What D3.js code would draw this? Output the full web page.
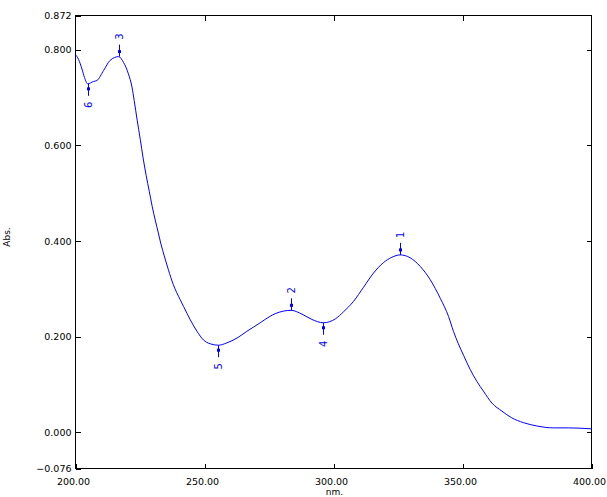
<!DOCTYPE html>
<html>
<head>
<meta charset="utf-8">
<script src="https://cdn.jsdelivr.net/npm/d3@7"></script>
<style>
  body { margin: 0; background: #fff; }
  svg { display: block; }
  .tick text { font-family: "DejaVu Sans", sans-serif; font-size: 9.5px; fill: #000; }
</style>
</head>
<body>
<svg id="chart" width="607" height="497"></svg>
<script>
// spectrum
const wavelength = [200, 201.2, 202.5, 203.5, 204.7, 207.0, 208.3, 210.9, 213.4, 216.7, 218.6, 220.5,
  221.9, 222.75, 223.9, 225.1, 226.2, 227.4, 228.6, 229.7, 230.9, 232.1, 233.2, 234.4, 236.0, 237.9,
  240.6, 241.9, 244.5, 247.1, 249.6, 252.2, 255.4, 258.7, 262.6, 266.4, 271.6, 273.5, 277.4, 283.6,
  287.8, 291.6, 296.1, 300.7, 303.9, 307.8, 311.6, 315.5, 319.4, 322.6, 325.9, 329.7, 333.6, 337.5,
  341.4, 344.6, 346.5, 348.4, 350.4, 353.0, 355.6, 358.1, 361.4, 365.3, 369.1, 373.6, 378.8, 385.3,
  391.1, 400];
const absorbance = [0.790, 0.780, 0.760, 0.742, 0.729, 0.734, 0.736, 0.757, 0.778, 0.786, 0.774, 0.750,
  0.722, 0.694, 0.653, 0.613, 0.574, 0.537, 0.504, 0.473, 0.444, 0.417, 0.392, 0.369, 0.340, 0.309,
  0.277, 0.263, 0.235, 0.211, 0.193, 0.185, 0.182, 0.187, 0.197, 0.211, 0.229, 0.236, 0.248, 0.255,
  0.247, 0.236, 0.229, 0.237, 0.252, 0.274, 0.303, 0.333, 0.355, 0.366, 0.371, 0.365, 0.347, 0.319,
  0.280, 0.242, 0.211, 0.185, 0.161, 0.131, 0.106, 0.086, 0.061, 0.044, 0.030, 0.020, 0.013, 0.009,
  0.009, 0.007];

// peak / valley picks
const peakLabels = ["1", "2", "3", "4", "5", "6"];
const peakNm = [325.9, 283.6, 216.7, 296.1, 255.4, 204.7];
const peakAbs = [0.371, 0.255, 0.786, 0.229, 0.182, 0.729];
const peakIsMax = [true, true, true, false, false, false];

const xTicks = [200, 250, 300, 350, 400];
const yTicks = [-0.076, 0, 0.2, 0.4, 0.6, 0.8, 0.872];

const plotLeft = 75.5, plotRight = 591.5, plotTop = 15.5, plotBottom = 468.5;
const svg = d3.select("#chart");

let x = d3.scaleLinear().domain([200, 400]).range([plotLeft, plotRight]);
let y = d3.scaleLinear().domain([-0.076, 0.872]).range([plotBottom, plotTop]);

// axes, ticks pointing inside
let yAxis = d3.axisLeft(y).tickValues(yTicks).tickFormat(d3.format(".3f"))
  .tickSizeInner(-5).tickSizeOuter(0).tickPadding(4);
svg.append("g").attr("transform", `translate(${plotLeft},0)`).call(yAxis)
  .call((g) => g.select(".domain").remove());

svg.append("g").attr("transform", `translate(${plotRight},0)`)
  .call(d3.axisRight(y).tickValues([0, 0.2, 0.4, 0.6, 0.8]).tickSizeInner(-5).tickSizeOuter(0).tickFormat(""))
  .call((g) => g.select(".domain").remove());

let xAxis = d3.axisBottom(x).tickValues(xTicks).tickFormat(d3.format(".2f"))
  .tickSizeInner(-5).tickSizeOuter(0).tickPadding(10);
svg.append("g").attr("transform", `translate(0,${plotBottom})`).call(xAxis)
  .call((g) => g.select(".domain").remove())
  .call((g) => g.selectAll("text").attr("x", -2.5));

svg.append("g").attr("transform", `translate(0,${plotTop})`)
  .call(d3.axisTop(x).tickValues([250, 300, 350]).tickSizeInner(-5).tickSizeOuter(0).tickFormat(""))
  .call((g) => g.select(".domain").remove());

svg.selectAll(".tick line").attr("stroke", "#000").attr("shape-rendering", "crispEdges");

svg.append("rect")
  .attr("x", plotLeft).attr("y", plotTop)
  .attr("width", plotRight - plotLeft).attr("height", plotBottom - plotTop)
  .attr("fill", "none").attr("stroke", "#000").attr("shape-rendering", "crispEdges");

// axis titles
svg.append("text")
  .attr("x", (plotLeft + plotRight) / 2 + 1).attr("y", 495)
  .attr("text-anchor", "middle")
  .style("font-family", "DejaVu Sans, sans-serif").style("font-size", "9px")
  .text("nm.");

svg.append("text")
  .attr("transform", "translate(10,237) rotate(-90)")
  .attr("text-anchor", "middle")
  .style("font-family", "DejaVu Sans, sans-serif").style("font-size", "9px")
  .text("Abs.");

// spectrum
let line = d3.line()
  .x((d, i) => x(wavelength[i]))
  .y((d) => y(d))
  .curve(d3.curveMonotoneX);

svg.append("path")
  .datum(absorbance)
  .attr("d", line)
  .attr("fill", "none")
  .attr("stroke", "#0000ff")
  .attr("stroke-width", 1);

// peak markers
let picks = svg.append("g").selectAll("g")
  .data(peakLabels)
  .enter()
  .append("g")
  .attr("transform", (d, i) => `translate(${Math.round(x(peakNm[i])) + 0.5},${y(peakAbs[i])})`);

picks.append("line")
  .attr("x1", 0).attr("x2", 0)
  .attr("y1", 0)
  .attr("y2", (d, i) => (peakIsMax[i] ? -12 : 12))
  .attr("stroke", "#0000ff");

picks.append("rect")
  .attr("x", -1.5).attr("width", 3).attr("height", 3)
  .attr("y", (d, i) => (peakIsMax[i] ? -6.5 : 3.5))
  .attr("fill", "#0000ff");

picks.append("text")
  .attr("transform", (d, i) => `translate(0,${peakIsMax[i] ? -20 : 21}) rotate(-90)`)
  .attr("text-anchor", "middle")
  .attr("dominant-baseline", "central")
  .style("font-family", "DejaVu Sans, sans-serif").style("font-size", "10px")
  .attr("fill", "#0000ff")
  .text((d) => d);
</script>
</body>
</html>
